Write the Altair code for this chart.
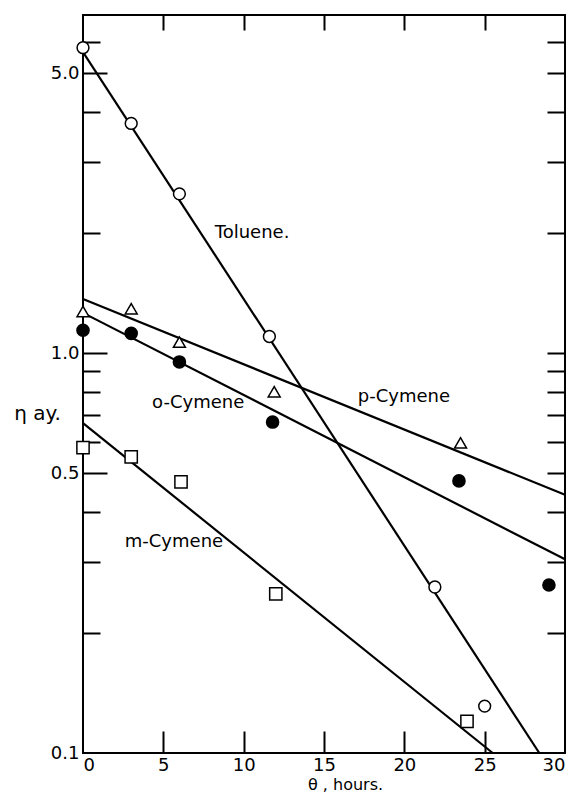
import altair as alt
import pandas as pd

# ---- data ----
tol_x = [0, 3, 6, 11.6, 21.9, 25.0]
tol_y = [5.8, 3.75, 2.5, 1.1, 0.26, 0.131]
pcy_x = [0, 3, 6, 11.9, 23.5]
pcy_y = [1.27, 1.29, 1.065, 0.80, 0.596]
ocy_x = [0, 3, 6, 11.8, 23.4, 29.0]
ocy_y = [1.14, 1.12, 0.95, 0.672, 0.479, 0.263]
mcy_x = [0, 3, 6.1, 12.0, 23.9]
mcy_y = [0.58, 0.55, 0.476, 0.25, 0.12]

series = ["Toluene", "p-Cymene", "o-Cymene", "m-Cymene"]
fit_x0 = [0, 0, 0, 0]
fit_y0 = [5.65, 1.365, 1.26, 0.668]
fit_x1 = [28.4, 30, 30, 25.5]
fit_y1 = [0.1, 0.442, 0.305, 0.1]

label_text = ["Toluene.", "p-Cymene", "o-Cymene", "m-Cymene"]
label_x = [8.2, 17.1, 4.3, 2.6]
label_y = [2.0, 0.776, 0.75, 0.337]

x_labels = [0, 5, 10, 15, 20, 25, 30]
x_inner = [5, 10, 15, 20, 25]
y_labels = [0.1, 0.5, 1.0, 5.0]
y_minor = [0.2, 0.3, 0.4, 0.6, 0.7, 0.8, 0.9, 2, 3, 4, 6]
y_major = [0.5, 1.0, 5.0]

W, H = 482, 738
FONT = "DejaVu Sans"

# ---- tables ----
lines_df = pd.DataFrame({
    "series": series + series,
    "x": fit_x0 + fit_x1,
    "y": fit_y0 + fit_y1,
})
pts_df = pd.DataFrame({
    "series": ["Toluene"] * len(tol_x) + ["p-Cymene"] * len(pcy_x)
              + ["o-Cymene"] * len(ocy_x) + ["m-Cymene"] * len(mcy_x),
    "x": tol_x + pcy_x + ocy_x + mcy_x,
    "y": tol_y + pcy_y + ocy_y + mcy_y,
})
lab_df = pd.DataFrame({"text": label_text, "x": label_x, "y": label_y})

xs = alt.Scale(domain=[0, 30], nice=False, zero=False)
ys = alt.Scale(type="log", domain=[0.1, 7], nice=False)

# main lines with labelled axes (bottom, left)
lines = alt.Chart(lines_df).mark_line(color="black", strokeWidth=2.2).encode(
    x=alt.X("x:Q", scale=xs, axis=alt.Axis(
        orient="bottom", values=x_labels, ticks=False, domain=False,
        labelPadding=3, labelFontSize=18,
        title="θ , hours.", titleX=262, titleY=31, titleAlign="center",
        titleBaseline="middle", titleFontSize=16)),
    y=alt.Y("y:Q", scale=ys, axis=alt.Axis(
        orient="left", values=y_labels, format=".1f", ticks=False, domain=False,
        labelPadding=4, labelFontSize=18,
        title="η ay.", titleAngle=0, titleX=-46, titleY=398, titleAlign="center",
        titleBaseline="middle", titleFontSize=20)),
    detail="series:N",
)

# data points; axes give inward ticks on bottom and left edges
points = alt.Chart(pts_df).mark_point(filled=True, stroke="black", strokeWidth=1.5, opacity=1).encode(
    x=alt.X("x:Q", scale=xs, axis=alt.Axis(
        orient="top", offset=-H, values=x_inner, labels=False, domain=False,
        tickSize=22, title="")),
    y=alt.Y("y:Q", scale=ys, axis=alt.Axis(
        orient="right", offset=-W, values=y_minor, labels=False, domain=False,
        tickSize=17, title="")),
    shape=alt.Shape("series:N", scale=alt.Scale(domain=series, range=["circle", "triangle-up", "circle", "square"]), legend=None),
    fill=alt.Fill("series:N", scale=alt.Scale(domain=series, range=["white", "white", "black", "white"]), legend=None),
    size=alt.Size("series:N", scale=alt.Scale(domain=series, range=[140, 150, 100, 100]), legend=None),
)

# invisible layer: top and right inward ticks
frame_tr = alt.Chart(lines_df).mark_line(opacity=0).encode(
    x=alt.X("x:Q", scale=xs, axis=alt.Axis(
        orient="bottom", offset=-H, values=x_inner, labels=False, domain=False,
        tickSize=15, title="")),
    y=alt.Y("y:Q", scale=ys, axis=alt.Axis(
        orient="left", offset=-W, values=y_minor + y_major, labels=False, domain=False,
        tickSize=18, title="")),
    detail="series:N",
)

# invisible layer: longer left ticks at the labelled values
frame_major = alt.Chart(lines_df).mark_line(opacity=0).encode(
    x=alt.X("x:Q", scale=xs, axis=None),
    y=alt.Y("y:Q", scale=ys, axis=alt.Axis(
        orient="right", offset=-W, values=y_major, labels=False, domain=False,
        tickSize=24, title="")),
    detail="series:N",
)

texts = alt.Chart(lab_df).mark_text(
    align="left", baseline="middle", font=FONT, fontSize=18, color="black"
).encode(
    x=alt.X("x:Q", scale=xs, axis=None),
    y=alt.Y("y:Q", scale=ys, axis=None),
    text="text:N",
)

chart = alt.layer(lines, points, frame_tr, frame_major, texts).resolve_axis(
    x="independent", y="independent"
).properties(
    width=W, height=H,
    autosize=alt.AutoSizeParams(type="none"),
    padding={"left": 75, "top": 7, "right": 1, "bottom": 39},
    background="white",
).configure_axis(
    grid=False, labelFont=FONT, titleFont=FONT, labelColor="black",
    titleColor="black", tickColor="black", tickWidth=2,
    titleFontWeight="normal",
).configure_view(stroke="black", strokeWidth=2)

chart.save("out.html", embed_options={"renderer": "svg", "actions": False})
